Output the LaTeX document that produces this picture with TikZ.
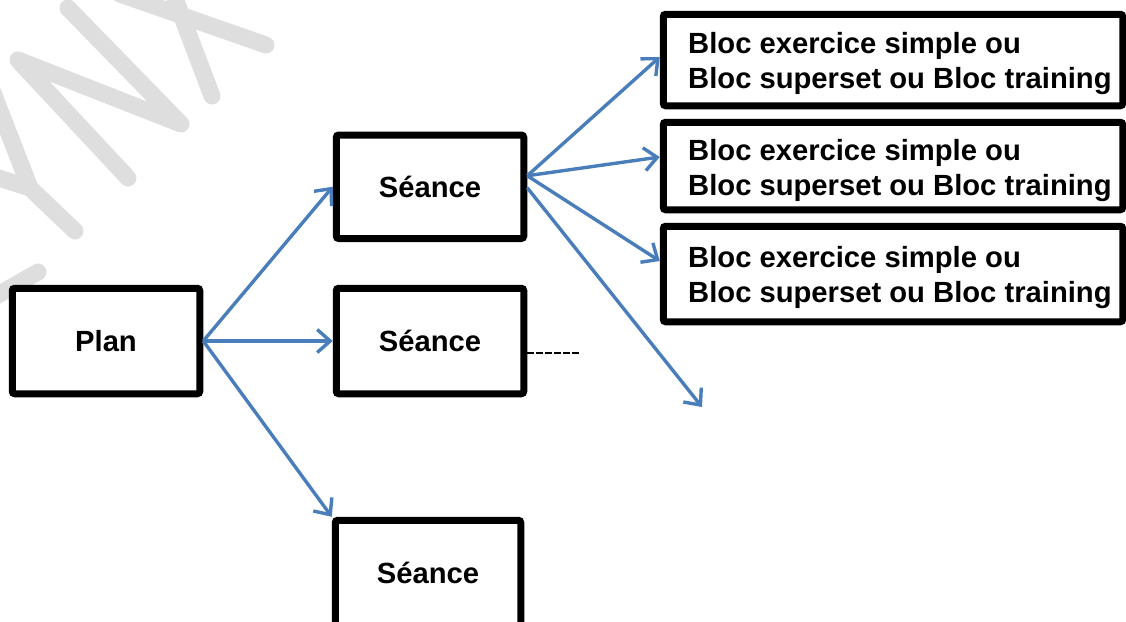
\documentclass[tikz,border=0pt]{standalone}
\usepackage{fontspec}
\setmainfont{Liberation Sans}
\usetikzlibrary{arrows.meta}
\definecolor{wmgray}{RGB}{222,222,222}
\definecolor{arrblue}{RGB}{74,126,187}
\begin{document}
\begin{tikzpicture}[x=1pt,y=-1pt,
  box/.style={draw=black, line width=7pt, fill=white, rounded corners=2.5pt, inner sep=0pt},
  lbl/.style={font=\fontsize{29.2}{35}\selectfont\bfseries, inner sep=0pt},
  arr/.style={draw=arrblue, line width=3.4pt, -{Straight Barb[length=13pt,width=23pt]}},
  wm/.style={draw=wmgray, line width=17pt, line cap=round, line join=round},
  dashline/.style={draw=black, line width=1.6pt, dash pattern=on 6.5pt off 2.5pt}]
\useasboundingbox (0,0) rectangle (1126,621);
\clip (0,0) rectangle (1126,621);
% watermark
\draw[wm] (68,8) -- (181,124) -- (18,60) -- (128,178);
\draw[wm] (-10,85) -- (30,188) -- (75,231);
\draw[wm] (-20,172) -- (30,188);
\draw[wm] (38,272) -- (-30,311);
\draw[wm] (266,45) -- (120,-6);
\draw[wm] (212,96) -- (168,-20);
% boxes
\node[box, minimum width=187.5pt, minimum height=105.5pt] (plan) at (106,341) {};
\node[lbl] at (plan.center) {Plan};
\node[box, minimum width=187.5pt, minimum height=103.5pt] (s1) at (430,186.75) {};
\node[lbl] at (s1.center) {Séance};
\node[box, minimum width=187.5pt, minimum height=105.5pt] (s2) at (430,341) {};
\node[lbl] at (s2.center) {Séance};
\node[box, minimum width=185.5pt, minimum height=105.5pt] (s3) at (428,573) {};
\node[lbl] at (s3.center) {Séance};
\node[box, minimum width=459.5pt, minimum height=91.5pt] (b1) at (893,60) {};
\node[box, minimum width=459.5pt, minimum height=87.5pt] (b2) at (893,166) {};
\node[box, minimum width=459.5pt, minimum height=95.5pt] (b3) at (893,274) {};
\node[lbl, anchor=base west] (b1a) at (688,53) {Bloc exercice simple ou};
\node[lbl, anchor=base west] (b1b) at (688,88) {Bloc superset ou Bloc training};
\node[lbl, anchor=base west] (b2a) at (688,160) {Bloc exercice simple ou};
\node[lbl, anchor=base west] (b2b) at (688,195) {Bloc superset ou Bloc training};
\node[lbl, anchor=base west] (b3a) at (688,267) {Bloc exercice simple ou};
\node[lbl, anchor=base west] (b3b) at (688,302) {Bloc superset ou Bloc training};
% free ends
\coordinate (dend) at (702,407);
\coordinate (dashend) at (580,353);
% connectors
\draw[arr] (plan.east) -- (s1.west);
\draw[arr] (plan.east) -- (s2.west);
\draw[arr] (plan.east) -- (s3.north west);
\draw[arr] ([yshift=11pt]s1.east) -- ([yshift=3pt]b1.west);
\draw[arr] ([yshift=11pt]s1.east) -- ([yshift=9pt]b2.west);
\draw[arr] ([yshift=11pt]s1.east) -- ([yshift=13pt]b3.west);
\draw[arr] ([yshift=-1pt]s1.east) -- (dend);
\draw[dashline] ([yshift=-12pt]s2.east) -- (dashend);
\end{tikzpicture}
\end{document}
